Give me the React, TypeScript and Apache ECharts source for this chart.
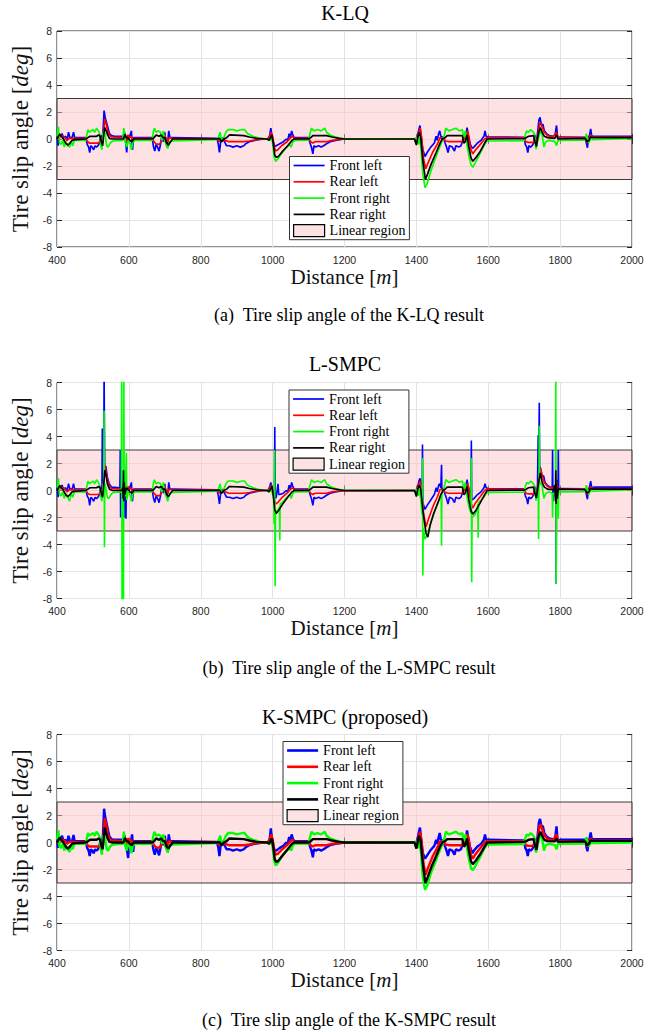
import React, { useEffect, useRef } from 'react';
import * as echarts from 'echarts';

// ---------- K-LQ ----------
const klqFL = [[400,0.3],[403,-0.5],[406,0.4],[410,0.2],[414,0.4],[418,0.1],[424,0.2],[428,-0.1],[432,0.5],[436,0.1],[442,0.1],[446,0.5],[449,0.1],[480,0.1],
[484,-0.4],[488,-0.6],[491,-1.0],[494,-0.5],[498,-0.6],[502,-0.8],[506,-0.5],[510,-0.6],[514,-0.5],[518,-0.3],[522,0.3],[525,-0.3],[528,0.5],[531,2.1],[534,1.6],[538,1.2],[542,0.8],[546,0.4],[552,0.25],[560,0.2],[585,0.2],[588,0.5],[591,-0.2],[594,-1.0],[597,0.2],[602,0.1],[607,0.6],[610,-0.8],[613,0.1],[620,0.1],[665,0.1],
[668,-0.5],[672,-0.9],[676,-0.4],[680,-0.6],[684,-0.9],[688,-0.4],[692,0.3],[696,-0.2],[700,0.5],[703,-0.3],[707,-0.6],[711,0.6],[714,0.1],[720,0.1],[845,0.05],
[849,-0.4],[852,-1.0],[855,-0.3],[860,0.1],[866,-0.2],[872,-0.5],[880,-0.5],[890,-0.6],[900,-0.5],[910,-0.6],[920,-0.5],[925,-0.35],[935,-0.2],[950,-0.1],[970,0],[988,0],
[992,0.3],[995,0.8],[998,0.2],[1002,-0.2],[1006,-0.55],[1010,-0.5],[1020,-0.35],[1030,-0.2],[1038,0],[1042,-0.1],[1046,0.4],[1049,0.1],[1053,0.6],[1056,0.3],[1060,0.1],[1100,0.1],
[1104,-0.3],[1108,-0.6],[1112,-1.1],[1115,-0.5],[1120,-0.6],[1128,-0.5],[1135,-0.6],[1142,-0.5],[1150,-0.35],[1160,-0.2],[1175,-0.1],[1195,-0.02],[1395,0],
[1398,-0.2],[1403,0.2],[1407,0.7],[1410,1.0],[1413,0.3],[1418,-0.8],[1424,-1.3],[1430,-1.0],[1440,-0.6],[1450,-0.3],[1455,0.2],[1458,-0.1],[1462,0.4],[1465,0.6],[1468,0.2],[1475,0.1],
[1480,-0.3],[1484,-0.6],[1488,-1.0],[1492,-0.5],[1500,-0.6],[1506,-0.9],[1510,-0.5],[1518,-0.6],[1524,-0.5],[1528,-0.2],[1532,0.3],[1537,0.1],[1541,0.85],[1545,0.2],[1550,-0.4],[1556,-0.7],[1560,-0.6],[1570,-0.3],[1580,-0.1],[1588,0.2],[1591,0.6],[1594,0.2],[1600,0.15],[1700,0.12],
[1703,-0.4],[1707,-0.6],[1710,-1.0],[1713,-0.5],[1718,-0.6],[1722,-0.5],[1726,-0.3],[1730,0.3],[1733,-0.6],[1737,0.4],[1741,1.4],[1744,1.6],[1748,1.0],[1752,1.1],[1756,0.6],[1762,0.4],[1770,0.25],[1780,0.2],[1786,0.3],[1790,1.0],[1793,0.1],[1800,0.15],[1870,0.12],
[1873,-0.3],[1876,-0.65],[1879,0.1],[1882,0.3],[1885,0.75],[1888,0.2],[1895,0.2],[2000,0.2]];

const klqRL = [[400,0.2],[405,-0.1],[410,0.3],[416,0.2],[422,0.1],[428,-0.1],[434,0.05],[440,0.05],[480,0.05],
[485,-0.2],[490,-0.3],[515,-0.3],[520,-0.2],[524,0.1],[527,-0.3],[530,0.6],[533,1.5],[537,1.1],[541,0.6],[545,0.3],[552,0.15],[585,0.1],[589,0.3],[593,-0.2],[597,0.3],[602,0.1],[606,0.2],[610,-0.1],[615,0.05],[665,0.05],
[670,-0.2],[675,-0.35],[685,-0.4],[690,-0.2],[695,0.2],[700,0.3],[704,0.0],[708,-0.2],[712,0.1],[720,0.05],[845,0.02],
[852,-0.2],[860,0],[868,-0.1],[878,-0.2],[920,-0.2],[935,-0.15],[955,-0.05],[985,0],
[992,0.2],[996,0.5],[1000,0.2],[1004,-0.5],[1008,-0.9],[1014,-0.8],[1025,-0.5],[1040,-0.2],[1050,0.1],[1055,0.2],[1060,0.05],[1100,0.05],
[1106,-0.2],[1112,-0.3],[1118,-0.2],[1150,-0.2],[1165,-0.1],[1190,-0.02],[1395,0],
[1400,-0.1],[1406,0.4],[1410,0.8],[1414,0.2],[1420,-1.5],[1426,-2.2],[1432,-1.8],[1445,-1.0],[1458,-0.4],[1466,0.1],[1472,0.05],
[1482,-0.15],[1490,-0.2],[1528,-0.2],[1533,0.1],[1537,-0.1],[1542,0.6],[1546,0.2],[1552,-0.8],[1557,-1.1],[1565,-0.8],[1578,-0.4],[1590,0],[1596,0.1],[1700,0.08],
[1705,-0.2],[1710,-0.25],[1726,-0.25],[1730,0.1],[1734,-0.3],[1738,0.3],[1743,1.1],[1746,1.2],[1750,0.9],[1756,0.5],[1765,0.25],[1780,0.15],[1790,0.5],[1794,0.1],[1800,0.1],[1870,0.1],
[1876,-0.3],[1880,0],[1885,0.3],[1890,0.15],[2000,0.15]];

const klqFR = [[400,0.2],[404,0.9],[407,-0.3],[411,-0.4],[416,-0.1],[420,-0.6],[425,-0.2],[430,-0.5],[435,-0.6],[440,-0.2],[444,-0.5],[448,-0.1],[480,-0.1],
[483,0.3],[486,0.7],[490,0.5],[495,0.6],[500,0.7],[505,0.5],[510,0.8],[515,0.6],[519,0.4],[522,-0.5],[525,-0.8],[528,0.4],[531,0.6],[534,0.3],[538,-0.5],[542,-0.6],[548,-0.3],[555,-0.15],[583,-0.1],[586,0.8],[590,-0.2],[594,-0.6],[598,-0.1],[603,-0.3],[607,-0.8],[611,-0.2],[618,-0.1],[665,-0.1],
[668,0.5],[671,0.8],[676,0.5],[682,0.6],[688,0.5],[692,-0.1],[696,0.6],[700,-0.2],[704,-0.4],[708,-0.7],[712,-0.3],[716,-0.15],[845,-0.05],
[850,0.2],[854,0.5],[858,-0.2],[864,0.1],[870,0.5],[876,0.7],[890,0.7],[900,0.6],[915,0.7],[922,0.7],[930,0.4],[945,0.2],[965,0.05],[985,0],
[992,-0.1],[996,0.2],[1000,-0.3],[1004,-1.3],[1008,-1.65],[1014,-1.5],[1024,-1.1],[1036,-0.7],[1046,-0.4],[1052,-0.6],[1056,-0.2],[1062,-0.1],[1100,-0.08],
[1104,0.4],[1108,0.8],[1115,0.6],[1125,0.7],[1135,0.6],[1145,0.8],[1150,0.5],[1160,0.3],[1175,0.15],[1195,0.03],[1395,0],
[1400,0.1],[1405,-0.4],[1409,0.1],[1413,-0.8],[1418,-2.6],[1424,-3.6],[1430,-3.3],[1440,-2.4],[1452,-1.5],[1462,-0.8],[1468,-0.4],[1472,-0.15],
[1478,0.3],[1482,0.8],[1490,0.6],[1500,0.7],[1510,0.8],[1520,0.6],[1528,0.7],[1532,0.1],[1536,0.6],[1540,-0.3],[1546,-1.2],[1552,-1.9],[1557,-2.1],[1563,-1.8],[1575,-1.2],[1588,-0.5],[1596,-0.15],[1700,-0.12],
[1703,0.3],[1707,0.6],[1712,0.5],[1718,0.7],[1724,0.55],[1728,0.4],[1733,-0.75],[1737,-0.2],[1742,0.3],[1746,0.6],[1750,0.3],[1755,-0.6],[1760,-0.2],[1770,-0.1],[1786,-0.2],[1790,-0.5],[1794,-0.1],[1870,-0.08],
[1873,0.4],[1876,0.1],[1880,-0.3],[1884,0],[1890,-0.05],[2000,0.05]];

const klqRR = [[400,0.0],[404,0.2],[408,0.35],[412,0.2],[418,0.0],[424,-0.3],[430,-0.45],[436,-0.3],[442,-0.1],[450,-0.05],[480,0],
[486,0.1],[492,0.2],[510,0.2],[516,0.3],[520,0.2],[524,-0.3],[527,-0.5],[530,0.3],[533,0.85],[537,0.6],[541,0.3],[546,0.05],[555,0.0],[585,0.0],[589,0.35],[593,0.1],[597,0.1],[603,-0.1],[608,-0.2],[614,0],[665,0],
[670,0.1],[676,0.3],[684,0.2],[690,0.3],[695,0.1],[700,0.1],[705,-0.3],[710,-0.45],[716,-0.2],[722,0],[845,0],
[852,0.05],[858,-0.2],[864,0],[872,0.1],[880,0.3],[920,0.25],[935,0.15],[955,0.05],[985,0],
[990,-0.1],[994,0.1],[998,0.3],[1002,-0.4],[1006,-1.2],[1010,-1.35],[1016,-1.3],[1028,-0.9],[1042,-0.5],[1054,-0.1],[1060,0],[1100,0],
[1106,0.1],[1112,0.25],[1150,0.25],[1165,0.15],[1185,0.05],[1200,0],[1395,0],
[1400,-0.45],[1404,0.1],[1408,0.5],[1412,0.1],[1418,-1.6],[1425,-3.0],[1431,-2.6],[1442,-1.8],[1455,-1.0],[1466,-0.3],[1472,0],
[1480,0.1],[1486,0.25],[1528,0.25],[1532,-0.3],[1536,-0.2],[1541,0.3],[1546,-0.6],[1552,-1.4],[1557,-1.65],[1565,-1.4],[1578,-0.9],[1590,-0.3],[1597,0],[1700,0.03],
[1706,0.1],[1712,0.2],[1726,0.25],[1730,-0.2],[1734,-0.55],[1738,0.2],[1742,0.6],[1745,0.85],[1750,0.5],[1756,0.2],[1765,0.1],[1785,0.05],[1790,0.3],[1794,0],[1870,0.05],
[1875,-0.2],[1880,-0.1],[1885,0.15],[1890,0.1],[2000,0.1]];

// ---------- L-SMPC ----------
const lsFL = [[400,0.3],[403,-0.5],[406,0.4],[410,0.2],[414,0.4],[418,0.1],[424,0.2],[428,-0.1],[432,0.5],[436,0.1],[442,0.1],[446,0.5],[449,0.1],[480,0.1],
[484,-0.4],[488,-0.6],[491,-1.1],[494,-0.5],[498,-0.6],[502,-0.8],[506,-0.5],[510,-0.6],[514,-0.5],[518,-0.3],[522,0.3],[525,-0.3],[526,4.6],[527,0.2],[530,0.8],[531,9],[532,9],[533,1.2],[536,1.8],[540,1.0],[545,0.5],[552,0.25],[575,0.2],[576,3.0],[577,-2.0],[578,0.3],[582,0.3],[585,0.5],[588,-0.4],[589,-2.0],[590,0.5],[592,-2.1],[593,0.2],[597,0.2],[602,0.1],[607,0.6],[610,-0.8],[613,0.1],[620,0.1],[665,0.1],
[668,-0.5],[672,-0.9],[676,-0.4],[680,-0.6],[684,-0.9],[688,-0.4],[692,0.3],[696,-0.2],[700,0.5],[703,-0.3],[707,-0.6],[711,0.6],[714,0.1],[720,0.1],[845,0.05],
[849,-0.4],[852,-1.0],[855,-0.3],[860,0.1],[866,-0.2],[872,-0.5],[880,-0.5],[890,-0.6],[900,-0.5],[910,-0.6],[920,-0.5],[925,-0.35],[935,-0.2],[950,-0.1],[970,0],[988,0],
[992,0.3],[995,0.6],[998,0.2],[1002,-0.2],[1005,-0.4],[1006,4.7],[1007,-0.6],[1010,-0.5],[1015,0.5],[1017,-0.3],[1020,-0.3],[1030,-0.2],[1038,0],[1042,-0.1],[1046,0.4],[1049,0.1],[1053,0.6],[1056,0.3],[1060,0.1],[1100,0.1],
[1104,-0.3],[1108,-0.6],[1112,-1.1],[1115,-0.5],[1120,-0.6],[1128,-0.5],[1135,-0.6],[1142,-0.5],[1150,-0.35],[1160,-0.2],[1175,-0.1],[1195,-0.02],[1395,0],
[1398,-0.2],[1403,0.2],[1407,0.7],[1410,0.9],[1414,0.3],[1416,-0.6],[1417,3.4],[1418,-0.9],[1424,-1.4],[1430,-1.1],[1440,-0.7],[1450,-0.3],[1455,0.2],[1458,-0.1],[1462,0.4],[1465,0.5],[1468,0.2],[1470,1.9],[1471,0.1],[1475,0.1],
[1480,-0.3],[1484,-0.6],[1488,-1.0],[1492,-0.5],[1500,-0.6],[1506,-0.9],[1510,-0.5],[1518,-0.6],[1524,-0.5],[1528,-0.2],[1532,0.3],[1537,0.1],[1541,0.8],[1545,0.2],[1550,-0.4],[1552,-0.6],[1553,3.7],[1554,-0.7],[1560,-0.6],[1570,-0.3],[1580,-0.1],[1588,0.2],[1591,0.5],[1594,0.2],[1600,0.15],[1700,0.12],
[1703,-0.4],[1707,-0.6],[1710,-1.0],[1713,-0.5],[1718,-0.6],[1722,-0.5],[1726,-0.3],[1730,0.3],[1733,-0.6],[1737,0.4],[1739,4.1],[1740,0.8],[1742,6.5],[1743,1.8],[1746,1.6],[1750,1.0],[1754,1.1],[1758,0.6],[1764,0.4],[1772,0.25],[1778,0.2],[1779,3.0],[1780,-0.8],[1784,0.3],[1788,0.2],[1789,-6.9],[1790,0.8],[1794,-0.3],[1795,3.0],[1796,0.1],[1800,0.15],[1870,0.12],
[1873,-0.3],[1876,-0.65],[1879,0.1],[1882,0.3],[1885,0.7],[1888,0.2],[1895,0.25],[2000,0.25]];

const lsRL = [[400,0.2],[405,-0.1],[410,0.3],[416,0.2],[422,0.1],[428,-0.1],[434,0.05],[440,0.05],[480,0.05],
[485,-0.2],[490,-0.3],[515,-0.3],[520,-0.2],[524,0.1],[527,-0.3],[530,0.6],[533,1.9],[537,1.3],[541,0.7],[545,0.3],[552,0.15],[580,0.1],[584,0.4],[586,-0.3],[589,0.3],[593,-0.2],[597,0.3],[602,0.1],[606,0.2],[610,-0.1],[615,0.05],[665,0.05],
[670,-0.2],[675,-0.35],[685,-0.4],[690,-0.2],[695,0.2],[700,0.3],[704,0.0],[708,-0.2],[712,0.1],[720,0.05],[845,0.02],
[852,-0.2],[860,0],[868,-0.1],[878,-0.2],[920,-0.2],[935,-0.15],[955,-0.05],[985,0],
[992,0.2],[996,0.4],[1000,0.2],[1004,-0.6],[1008,-1.0],[1014,-0.9],[1025,-0.55],[1040,-0.2],[1050,0.1],[1055,0.2],[1060,0.05],[1100,0.05],
[1106,-0.2],[1112,-0.3],[1118,-0.2],[1150,-0.2],[1165,-0.1],[1190,-0.02],[1395,0],
[1400,-0.1],[1406,0.4],[1410,0.7],[1414,0.2],[1420,-1.7],[1427,-2.7],[1434,-2.1],[1446,-1.2],[1458,-0.5],[1466,0.1],[1472,0.05],
[1482,-0.15],[1490,-0.2],[1528,-0.2],[1533,0.1],[1537,-0.1],[1542,0.5],[1546,0.2],[1552,-0.9],[1557,-1.3],[1565,-0.9],[1578,-0.45],[1590,0],[1596,0.1],[1700,0.08],
[1705,-0.2],[1710,-0.25],[1726,-0.25],[1730,0.1],[1734,-0.3],[1738,0.3],[1743,1.4],[1746,1.6],[1750,1.1],[1756,0.6],[1765,0.3],[1780,0.15],[1786,0.4],[1788,-0.4],[1790,0.6],[1794,0.1],[1800,0.1],[1870,0.1],
[1876,-0.3],[1880,0],[1885,0.3],[1890,0.15],[2000,0.15]];

const lsFR = [[400,0.2],[404,0.9],[407,-0.3],[411,-0.4],[416,-0.1],[420,-0.6],[425,-0.2],[430,-0.5],[435,-0.8],[440,-0.2],[444,-0.5],[448,-0.1],[480,-0.1],
[483,0.3],[486,0.7],[490,0.5],[495,0.6],[500,0.7],[505,0.5],[510,0.8],[515,0.6],[519,0.4],[522,-0.5],[525,-0.8],[528,0.4],[530,0.6],[531,5.9],[532,-4.2],[533,0.5],[536,0.2],[540,-0.5],[544,-0.6],[550,-0.3],[556,-0.15],[579,-0.1],[580,9],[581,-9],[582,0.3],[585,-9],[586,9],[587,-0.5],[590,-0.3],[593,2.8],[594,-0.7],[598,-0.1],[603,-0.3],[607,-0.8],[611,-0.2],[618,-0.1],[665,-0.1],
[668,0.5],[671,0.8],[676,0.5],[682,0.6],[688,0.5],[692,-0.1],[696,0.6],[700,-0.2],[704,-0.4],[708,-0.8],[712,-0.3],[716,-0.15],[845,-0.05],
[850,0.2],[854,0.5],[858,-0.2],[864,0.1],[870,0.5],[876,0.7],[890,0.7],[900,0.6],[915,0.7],[922,0.7],[930,0.4],[945,0.2],[965,0.05],[985,0],
[992,-0.1],[996,0.2],[1000,-0.3],[1003,-0.6],[1004,-2.5],[1005,3.0],[1006,-1.2],[1007,-7.1],[1008,-1.5],[1014,-1.5],[1019,-1.2],[1020,-3.7],[1021,-1.0],[1030,-0.8],[1040,-0.5],[1048,-0.3],[1052,-0.6],[1056,-0.2],[1062,-0.1],[1100,-0.08],
[1104,0.4],[1108,0.8],[1115,0.6],[1125,0.7],[1135,0.6],[1145,0.8],[1150,0.5],[1160,0.3],[1175,0.15],[1195,0.03],[1395,0],
[1400,0.1],[1405,-0.4],[1409,0.1],[1413,-0.9],[1416,-1.8],[1417,2.4],[1418,-6.3],[1419,-2.8],[1424,-3.6],[1430,-3.3],[1440,-2.4],[1452,-1.5],[1462,-0.8],[1469,-0.3],[1470,-4.1],[1471,-0.2],[1474,-0.15],
[1478,0.3],[1482,0.8],[1490,0.6],[1500,0.7],[1510,0.8],[1520,0.6],[1528,0.7],[1532,0.1],[1536,0.6],[1540,-0.3],[1546,-1.2],[1552,-1.7],[1553,2.4],[1554,-6.8],[1555,-2.0],[1563,-1.8],[1570,-1.3],[1571,-1.0],[1572,-3.5],[1573,-0.9],[1588,-0.5],[1596,-0.15],[1700,-0.12],
[1703,0.3],[1707,0.6],[1712,0.5],[1718,0.7],[1724,0.55],[1728,0.4],[1733,-0.75],[1737,-0.2],[1739,0.3],[1740,-3.6],[1741,0.3],[1742,4.8],[1743,0.6],[1746,0.5],[1750,0.3],[1755,-0.6],[1760,-0.2],[1770,-0.1],[1778,-0.2],[1779,-2.0],[1780,-0.2],[1786,-0.3],[1787,0.2],[1788,9],[1789,-6.9],[1790,-0.5],[1794,-0.3],[1795,-2.1],[1796,-0.1],[1870,-0.08],
[1873,0.4],[1876,0.1],[1880,-0.3],[1884,0],[1890,-0.05],[2000,0.05]];

const lsRR = [[400,0.0],[404,0.2],[408,0.35],[412,0.2],[418,0.0],[424,-0.3],[430,-0.45],[436,-0.3],[442,-0.1],[450,-0.05],[480,0],
[486,0.1],[492,0.2],[510,0.2],[516,0.3],[520,0.2],[524,-0.3],[527,-0.5],[530,0.4],[533,1.5],[536,1.2],[540,0.5],[546,0.1],[555,0.0],[580,0.0],[583,0.2],[584,-0.6],[585,1.5],[586,-0.8],[587,0.6],[589,-0.3],[593,0.2],[597,0.1],[603,-0.1],[608,-0.2],[614,0],[665,0],
[670,0.1],[676,0.3],[684,0.2],[690,0.3],[695,0.1],[700,0.1],[705,-0.3],[710,-0.45],[716,-0.2],[722,0],[845,0],
[852,0.05],[858,-0.2],[864,0],[872,0.1],[880,0.3],[920,0.25],[935,0.15],[955,0.05],[985,0],
[990,-0.1],[994,0.1],[998,0.3],[1002,-0.4],[1006,-1.4],[1010,-1.7],[1016,-1.5],[1028,-1.0],[1042,-0.5],[1054,-0.1],[1060,0],[1100,0],
[1106,0.1],[1112,0.25],[1150,0.25],[1165,0.15],[1185,0.05],[1200,0],[1395,0],
[1400,-0.45],[1404,0.1],[1408,0.4],[1412,0.1],[1420,-1.9],[1427,-3.2],[1432,-3.45],[1438,-2.6],[1448,-1.7],[1460,-0.9],[1468,-0.3],[1474,0],
[1480,0.1],[1486,0.25],[1528,0.25],[1532,-0.3],[1536,-0.2],[1541,0.3],[1546,-0.7],[1552,-1.5],[1557,-1.75],[1565,-1.5],[1578,-0.9],[1590,-0.3],[1597,0],[1700,0.03],
[1706,0.1],[1712,0.2],[1726,0.25],[1730,-0.2],[1734,-0.55],[1738,0.2],[1742,0.9],[1745,1.3],[1750,0.6],[1756,0.25],[1765,0.1],[1782,0.05],[1785,0.4],[1787,-0.8],[1788,1.5],[1789,-1.0],[1790,0.5],[1792,-0.6],[1795,0.1],[1870,0.05],
[1875,-0.2],[1880,-0.1],[1885,0.15],[1890,0.1],[2000,0.1]];

// ---------- K-SMPC (proposed) ----------
const ksFL = [[400,0.3],[403,-0.4],[406,0.4],[410,0.2],[414,0.5],[418,0.1],[424,0.2],[428,-0.1],[432,0.5],[436,0.1],[442,0.1],[446,0.55],[449,0.1],[480,0.1],
[484,-0.4],[488,-0.6],[491,-1.0],[494,-0.5],[498,-0.6],[502,-0.8],[506,-0.5],[510,-0.6],[514,-0.5],[518,-0.3],[522,0.3],[525,-0.4],[528,0.6],[531,2.5],[534,1.9],[538,1.4],[542,0.9],[546,0.45],[552,0.25],[560,0.2],[585,0.2],[588,0.55],[591,-0.2],[594,-0.4],[598,-1.15],[601,0.2],[606,0.1],[609,0.6],[612,-0.7],[615,0.1],[620,0.1],[665,0.1],
[668,-0.5],[672,-0.9],[676,-0.4],[680,-0.6],[684,-0.95],[688,-0.4],[692,0.3],[696,-0.2],[700,0.5],[703,-0.3],[707,-0.6],[711,0.6],[714,0.1],[720,0.1],[845,0.05],
[849,-0.4],[852,-1.0],[855,-0.3],[860,0.1],[866,-0.2],[872,-0.5],[880,-0.5],[890,-0.6],[900,-0.5],[910,-0.6],[920,-0.5],[925,-0.35],[935,-0.2],[950,-0.1],[970,0],[988,0],
[992,0.3],[995,1.05],[998,0.3],[1002,-0.2],[1006,-0.65],[1010,-0.6],[1020,-0.4],[1030,-0.25],[1038,0],[1042,-0.1],[1046,0.4],[1049,0.1],[1053,0.6],[1056,0.3],[1060,0.1],[1100,0.1],
[1104,-0.3],[1108,-0.6],[1112,-1.1],[1115,-0.5],[1120,-0.6],[1128,-0.5],[1135,-0.6],[1142,-0.5],[1150,-0.35],[1160,-0.2],[1175,-0.1],[1195,-0.02],[1395,0],
[1398,-0.2],[1403,0.2],[1407,0.8],[1410,1.1],[1413,0.3],[1418,-0.8],[1424,-1.2],[1430,-0.95],[1440,-0.55],[1450,-0.25],[1455,0.2],[1458,-0.1],[1462,0.4],[1465,0.7],[1468,0.2],[1475,0.1],
[1480,-0.3],[1484,-0.6],[1488,-1.0],[1492,-0.5],[1500,-0.6],[1506,-0.9],[1510,-0.5],[1518,-0.6],[1524,-0.5],[1528,-0.2],[1532,0.3],[1537,0.1],[1541,0.9],[1545,0.2],[1550,-0.4],[1556,-0.8],[1560,-0.6],[1570,-0.3],[1580,-0.1],[1588,0.2],[1591,0.6],[1594,0.2],[1600,0.2],[1700,0.15],
[1703,-0.4],[1707,-0.6],[1710,-1.0],[1713,-0.5],[1718,-0.6],[1722,-0.5],[1726,-0.3],[1730,0.3],[1733,-0.6],[1737,0.4],[1741,1.5],[1744,1.75],[1748,1.2],[1752,1.2],[1756,0.7],[1762,0.45],[1770,0.3],[1780,0.25],[1786,0.3],[1790,1.2],[1793,0.1],[1800,0.2],[1870,0.2],
[1873,-0.3],[1876,-0.65],[1879,0.1],[1882,0.3],[1885,0.75],[1888,0.25],[1895,0.25],[2000,0.25]];

const ksRL = [[400,0.2],[405,-0.1],[410,0.3],[416,0.2],[422,0.1],[428,-0.1],[434,0.05],[440,0.05],[480,0.05],
[485,-0.2],[490,-0.3],[515,-0.3],[520,-0.2],[524,0.1],[527,-0.3],[530,0.6],[533,1.8],[537,1.3],[541,0.7],[545,0.3],[552,0.15],[585,0.1],[589,0.3],[593,-0.2],[597,0.3],[602,0.1],[606,0.2],[610,-0.1],[615,0.05],[665,0.05],
[670,-0.2],[675,-0.35],[685,-0.4],[690,-0.2],[695,0.2],[700,0.3],[704,0.0],[708,-0.2],[712,0.1],[720,0.05],[845,0.02],
[852,-0.2],[860,0],[868,-0.1],[878,-0.2],[920,-0.2],[935,-0.15],[955,-0.05],[985,0],
[992,0.2],[996,0.6],[1000,0.2],[1004,-0.5],[1008,-0.9],[1014,-0.85],[1025,-0.55],[1040,-0.2],[1050,0.1],[1055,0.2],[1060,0.05],[1100,0.05],
[1106,-0.2],[1112,-0.3],[1118,-0.2],[1150,-0.2],[1165,-0.1],[1190,-0.02],[1395,0],
[1400,-0.1],[1406,0.4],[1410,0.8],[1414,0.2],[1420,-1.6],[1426,-2.4],[1432,-1.9],[1445,-1.05],[1458,-0.4],[1466,0.1],[1472,0.05],
[1482,-0.15],[1490,-0.2],[1528,-0.2],[1533,0.1],[1537,-0.1],[1542,0.6],[1546,0.2],[1552,-0.9],[1557,-1.2],[1565,-0.85],[1578,-0.4],[1590,0],[1596,0.1],[1700,0.1],
[1705,-0.2],[1710,-0.25],[1726,-0.25],[1730,0.1],[1734,-0.3],[1738,0.3],[1743,1.25],[1746,1.35],[1750,1.0],[1756,0.55],[1765,0.25],[1780,0.15],[1790,0.6],[1794,0.1],[1800,0.1],[1870,0.1],
[1876,-0.3],[1880,0],[1885,0.3],[1890,0.15],[2000,0.15]];

const ksFR = [[400,0.2],[404,0.9],[407,-0.3],[411,-0.4],[416,-0.1],[420,-0.6],[425,-0.2],[430,-0.5],[435,-0.7],[440,-0.2],[444,-0.5],[448,-0.1],[480,-0.1],
[483,0.3],[486,0.7],[490,0.5],[495,0.6],[500,0.7],[505,0.5],[510,0.8],[515,0.6],[519,0.4],[522,-0.5],[525,-0.9],[528,0.4],[531,0.6],[534,0.3],[538,-0.5],[542,-0.6],[548,-0.3],[555,-0.15],[583,-0.1],[586,0.8],[590,-0.2],[594,-0.6],[598,-0.1],[603,-0.3],[607,-0.8],[611,-0.2],[618,-0.1],[665,-0.1],
[668,0.5],[671,0.8],[676,0.5],[682,0.6],[688,0.5],[692,-0.1],[696,0.6],[700,-0.2],[704,-0.4],[708,-0.75],[712,-0.3],[716,-0.15],[845,-0.05],
[850,0.2],[854,0.5],[858,-0.2],[864,0.1],[870,0.5],[876,0.7],[890,0.7],[900,0.6],[915,0.7],[922,0.7],[930,0.4],[945,0.2],[965,0.05],[985,0],
[992,-0.1],[996,0.2],[1000,-0.3],[1004,-1.3],[1008,-1.7],[1014,-1.55],[1024,-1.1],[1036,-0.7],[1046,-0.4],[1052,-0.6],[1056,-0.2],[1062,-0.1],[1100,-0.08],
[1104,0.4],[1108,0.8],[1115,0.6],[1125,0.7],[1135,0.6],[1145,0.8],[1150,0.5],[1160,0.3],[1175,0.15],[1195,0.03],[1395,0],
[1400,0.1],[1405,-0.4],[1409,0.1],[1413,-0.8],[1418,-2.6],[1424,-3.5],[1430,-3.2],[1440,-2.3],[1452,-1.5],[1462,-0.8],[1468,-0.4],[1472,-0.15],
[1478,0.3],[1482,0.8],[1490,0.6],[1500,0.7],[1510,0.8],[1520,0.6],[1528,0.7],[1532,0.1],[1536,0.6],[1540,-0.3],[1546,-1.2],[1552,-1.9],[1557,-2.05],[1563,-1.8],[1575,-1.2],[1588,-0.5],[1596,-0.15],[1700,-0.12],
[1703,0.3],[1707,0.6],[1712,0.5],[1718,0.7],[1724,0.55],[1728,0.4],[1733,-0.75],[1737,-0.2],[1742,0.3],[1746,0.6],[1750,0.3],[1755,-0.6],[1760,-0.2],[1770,-0.1],[1786,-0.2],[1790,-0.5],[1794,-0.1],[1870,-0.08],
[1873,0.4],[1876,0.1],[1880,-0.3],[1884,0],[1890,-0.05],[2000,0.0]];

const ksRR = [[400,0.0],[404,0.2],[408,0.35],[412,0.2],[418,0.0],[424,-0.3],[430,-0.45],[436,-0.3],[442,-0.1],[450,-0.05],[480,0],
[486,0.1],[492,0.2],[510,0.2],[516,0.3],[520,0.2],[524,-0.3],[527,-0.5],[530,0.3],[533,1.1],[537,0.7],[541,0.3],[546,0.05],[555,0.0],[585,0.0],[589,0.35],[593,0.1],[597,0.1],[603,-0.1],[608,-0.2],[614,0],[665,0],
[670,0.1],[676,0.3],[684,0.2],[690,0.3],[695,0.1],[700,0.1],[705,-0.3],[710,-0.45],[716,-0.2],[722,0],[845,0],
[852,0.05],[858,-0.2],[864,0],[872,0.1],[880,0.3],[920,0.25],[935,0.15],[955,0.05],[985,0],
[990,-0.1],[994,0.1],[998,0.3],[1002,-0.4],[1006,-1.25],[1010,-1.45],[1016,-1.35],[1028,-0.95],[1042,-0.5],[1054,-0.1],[1060,0],[1100,0],
[1106,0.1],[1112,0.25],[1150,0.25],[1165,0.15],[1185,0.05],[1200,0],[1395,0],
[1400,-0.45],[1404,0.1],[1408,0.5],[1412,0.1],[1418,-1.6],[1425,-3.0],[1431,-2.6],[1442,-1.8],[1455,-1.0],[1466,-0.3],[1472,0],
[1480,0.1],[1486,0.25],[1528,0.25],[1532,-0.3],[1536,-0.2],[1541,0.3],[1546,-0.6],[1552,-1.4],[1557,-1.6],[1565,-1.35],[1578,-0.85],[1590,-0.3],[1597,0],[1700,0.05],
[1706,0.1],[1712,0.2],[1726,0.25],[1730,-0.2],[1734,-0.55],[1738,0.2],[1742,0.6],[1745,0.8],[1750,0.5],[1756,0.2],[1765,0.1],[1785,0.08],[1790,0.3],[1794,0.05],[1870,0.08],
[1875,-0.2],[1880,-0.1],[1885,0.15],[1890,0.12],[2000,0.12]];

const seriesNames = ['Front left', 'Rear left', 'Front right', 'Rear right'];
const seriesColors = ['#0000ff', '#ff0000', '#00ff00', '#000000'];
const bandName = 'Linear region';
const bandLimits = [3, -3];

const panels = [
  { title: 'K-LQ', caption: '(a)  Tire slip angle of the K-LQ result', top: 31, titleY: 13, capY: 315, data: [klqFL, klqRL, klqFR, klqRR], lw: 1.7, legLeft: 289.5, legTop: 156.5, iconH: 1.7 },
  { title: 'L-SMPC', caption: '(b)  Tire slip angle of the L-SMPC result', top: 382.5, titleY: 364, capY: 668, data: [lsFL, lsRL, lsFR, lsRR], lw: 1.6, legLeft: 289, legTop: 390, iconH: 1.7 },
  { title: 'K-SMPC (proposed)', caption: '(c)  Tire slip angle of the K-SMPC result', top: 734.5, titleY: 717, capY: 1020, data: [ksFL, ksRL, ksFR, ksRR], lw: 2.4, legLeft: 283, legTop: 741.5, iconH: 2.6 },
];

const SERIF = 'Liberation Serif';
const SANS = 'Liberation Sans';

function buildOption() {
  const grid: any[] = [];
  const xAxis: any[] = [];
  const yAxis: any[] = [];
  const series: any[] = [];
  const legend: any[] = [];
  const graphic: any[] = [];
  const plain = (v: number) => String(v);

  panels.forEach((p, i) => {
    grid.push({ left: 57, top: p.top, width: 575, height: 216, show: true, borderColor: '#262626', borderWidth: 1, backgroundColor: 'transparent', containLabel: false });
    const tick = { show: true, inside: true, length: 5, lineStyle: { color: '#262626', width: 1 } };
    xAxis.push({
      type: 'value', gridIndex: i, min: 400, max: 2000, interval: 200, position: 'bottom',
      axisLine: { show: false }, axisTick: tick,
      axisLabel: { fontFamily: SANS, fontSize: 10.5, color: '#262626', margin: 7, formatter: plain },
      splitLine: { show: true, lineStyle: { color: '#e3e3e3', width: 1 } },
      name: 'Distance [{i|m}]', nameLocation: 'middle', nameGap: 19,
      nameTextStyle: { fontFamily: SERIF, fontSize: 21, color: '#111', rich: { i: { fontFamily: SERIF, fontSize: 21, fontStyle: 'italic', color: '#111' } } },
    });
    xAxis.push({
      type: 'value', gridIndex: i, min: 400, max: 2000, interval: 200, position: 'top',
      axisLine: { show: false }, axisTick: tick, axisLabel: { show: false }, splitLine: { show: false },
    });
    yAxis.push({
      type: 'value', gridIndex: i, min: -8, max: 8, interval: 2, position: 'left',
      axisLine: { show: false }, axisTick: tick,
      axisLabel: { fontFamily: SANS, fontSize: 10.5, color: '#262626', margin: 5, formatter: plain },
      splitLine: { show: true, lineStyle: { color: '#e3e3e3', width: 1 } },
      name: 'Tire slip angle [{i|deg}]', nameLocation: 'middle', nameGap: 18, nameRotate: 90,
      nameTextStyle: { fontFamily: SERIF, fontSize: 23, color: '#111', rich: { i: { fontFamily: SERIF, fontSize: 23, fontStyle: 'italic', color: '#111' } } },
    });
    yAxis.push({
      type: 'value', gridIndex: i, min: -8, max: 8, interval: 2, position: 'right',
      axisLine: { show: false }, axisTick: tick, axisLabel: { show: false }, splitLine: { show: false },
    });

    series.push({
      type: 'line', name: bandName, xAxisIndex: i * 2, yAxisIndex: i * 2, data: [],
      markArea: {
        silent: true,
        itemStyle: { color: 'rgba(251,196,200,0.5)', borderColor: '#3a3a3a', borderWidth: 1 },
        data: [[{ yAxis: bandLimits[0] }, { yAxis: bandLimits[1] }]],
      },
    });
    p.data.forEach((d, k) => {
      series.push({
        type: 'line', name: seriesNames[k], xAxisIndex: i * 2, yAxisIndex: i * 2,
        data: d, showSymbol: false, symbol: 'none', clip: true,
        lineStyle: { color: seriesColors[k], width: p.lw },
        itemStyle: { color: seriesColors[k] },
        emphasis: { disabled: true },
      });
    });

    const linePath = `path://M0 0H31V${p.iconH}H0Z`;
    legend.push({
      orient: 'vertical', left: p.legLeft, top: p.legTop, selectedMode: false,
      backgroundColor: '#fff', borderColor: '#333', borderWidth: 1, borderRadius: 0,
      padding: [2, 4, 2, 3.5], itemGap: 2.3, itemWidth: 31, itemHeight: 14,
      textStyle: { fontFamily: SERIF, fontSize: 14, color: '#000', fontWeight: 'normal' },
      data: [
        ...seriesNames.map((n, k) => ({ name: n, icon: linePath, itemStyle: { color: seriesColors[k], borderWidth: 0 } })),
        { name: bandName, icon: 'path://M0 0H31V12H0Z', itemStyle: { color: '#fde2e4', borderColor: '#000', borderWidth: 1.2 } },
      ],
    });

    graphic.push({
      type: 'text', x: 345, y: p.titleY, silent: true,
      style: { text: p.title, font: `20px "${SERIF}"`, fill: '#000', align: 'center', verticalAlign: 'middle', textAlign: 'center', textVerticalAlign: 'middle' },
    });
    graphic.push({
      type: 'text', x: 349, y: p.capY, silent: true,
      style: { text: p.caption, font: `18px "${SERIF}"`, fill: '#000', align: 'center', verticalAlign: 'middle', textAlign: 'center', textVerticalAlign: 'middle' },
    });
  });

  return { animation: false, backgroundColor: '#fff', grid, xAxis, yAxis, series, legend, graphic, tooltip: { show: false } };
}

export default function App() {
  const ref = useRef<HTMLDivElement>(null);
  useEffect(() => {
    if (!ref.current) return;
    const chart = echarts.init(ref.current, undefined, { renderer: 'svg' });
    chart.setOption(buildOption());
    return () => chart.dispose();
  }, []);
  return <div ref={ref} style={{ position: 'absolute', left: 0, top: 0, width: 659, height: 1032, background: '#fff' }} />;
}
